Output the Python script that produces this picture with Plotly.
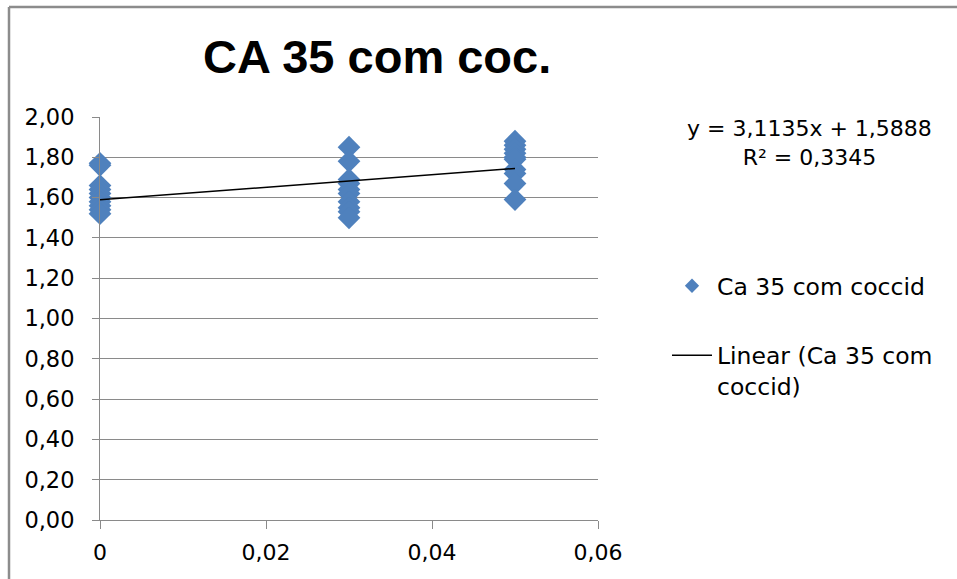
import plotly.graph_objects as go

# ---- data ----
x_group_0 = [0.0] * 10
y_group_0 = [1.77, 1.76, 1.66, 1.64, 1.62, 1.60, 1.58, 1.56, 1.54, 1.52]
x_group_1 = [0.03] * 10
y_group_1 = [1.85, 1.78, 1.69, 1.67, 1.64, 1.62, 1.58, 1.55, 1.53, 1.50]
x_group_2 = [0.05] * 10
y_group_2 = [1.88, 1.86, 1.84, 1.82, 1.80, 1.79, 1.74, 1.72, 1.67, 1.59]

slope = 3.1135
intercept = 1.5888
r_squared = 0.3345
trend_x = [0.0, 0.05]

title_text = "CA 35 com coc."
series_name = "Ca 35 com coccid"
trend_name = "Linear (Ca 35 com<br>coccid)"

y_tickvals = [0.0, 0.2, 0.4, 0.6, 0.8, 1.0, 1.2, 1.4, 1.6, 1.8, 2.0]
y_ticktext = ["0,00", "0,20", "0,40", "0,60", "0,80", "1,00", "1,20", "1,40", "1,60", "1,80", "2,00"]
x_tickvals = [0.0, 0.02, 0.04, 0.06]
x_ticktext = ["0", "0,02", "0,04", "0,06"]

xs = x_group_0 + x_group_1 + x_group_2
ys = y_group_0 + y_group_1 + y_group_2
trend_y = [slope * v + intercept for v in trend_x]

def fmt(v, d):
    return f"{v:.{d}f}".replace(".", ",")

eq_text = f"y = {fmt(slope, 4)}x + {fmt(intercept, 4)}<br>R² = {fmt(r_squared, 4)}"

FONT = "DejaVu Sans, sans-serif"
TITLE_FONT = "Liberation Sans, Arial, sans-serif"
BLUE = "#4F81BD"
GRID = "#8A8A8A"

W, H = 957, 579
L, R, T, B = 100, 598, 117, 520

fig = go.Figure()
fig.add_trace(go.Scatter(
    x=xs, y=ys, mode="markers", showlegend=False, cliponaxis=False,
    marker=dict(symbol="diamond", size=17.5, color=BLUE, line=dict(width=0)),
))
fig.add_trace(go.Scatter(
    x=trend_x, y=trend_y, mode="lines", showlegend=False, cliponaxis=False,
    line=dict(color="black", width=1.5),
))
# legend-only entries
fig.add_trace(go.Scatter(
    x=[None], y=[None], mode="markers", name=series_name, legendgroup="a",
    marker=dict(symbol="diamond", size=11, color=BLUE, line=dict(width=0)),
))
fig.add_trace(go.Scatter(
    x=[None], y=[None], mode="lines", name=trend_name, legendgroup="b",
    line=dict(color="black", width=1.5),
))

def px_x(p):
    return (p - L) / (R - L)

def px_y(p):
    return (B - p) / (B - T)

fig.update_layout(
    width=W, height=H, autosize=False,
    margin=dict(l=L, r=W - R, t=T, b=H - B, pad=0),
    paper_bgcolor="white", plot_bgcolor="white",
    font=dict(family=FONT, size=22, color="black"),
    showlegend=True,
    legend=dict(
        x=px_x(667), y=px_y(264), xanchor="left", yanchor="top",
        font=dict(family=FONT, size=23.5, color="black"),
        tracegroupgap=36, valign="top", bgcolor="rgba(0,0,0,0)",
        itemwidth=40,
    ),
    xaxis=dict(
        range=[0, 0.06], tickvals=x_tickvals, ticktext=x_ticktext,
        showgrid=False, zeroline=False, showline=True, linecolor=GRID, linewidth=1,
        ticks="outside", ticklen=8, tickcolor=GRID, tickwidth=1,
        tickfont=dict(family=FONT, size=22, color="black"), ticklabelstandoff=5,
    ),
    yaxis=dict(
        range=[0, 2.0], tickvals=y_tickvals, ticktext=y_ticktext,
        showgrid=True, gridcolor=GRID, gridwidth=1, zeroline=False,
        showline=True, linecolor=GRID, linewidth=1,
        ticks="outside", ticklen=7, tickcolor=GRID, tickwidth=1,
        tickfont=dict(family=FONT, size=22.5, color="black"), ticklabelstandoff=13,
    ),
    annotations=[
        dict(text=f"<b>{title_text}</b>", xref="paper", yref="paper",
             x=px_x(377), y=px_y(57), xanchor="center", yanchor="middle",
             showarrow=False, font=dict(family=TITLE_FONT, size=47, color="black")),
        dict(text=eq_text, xref="paper", yref="paper",
             x=px_x(809), y=px_y(143), xanchor="center", yanchor="middle",
             align="center", showarrow=False,
             font=dict(family=FONT, size=22, color="black")),
    ],
    shapes=[
        dict(type="line", xref="paper", yref="paper",
             x0=px_x(9), x1=px_x(9), y0=px_y(7), y1=px_y(600),
             line=dict(color="#8C8C8C", width=2.5)),
        dict(type="line", xref="paper", yref="paper",
             x0=px_x(9), x1=px_x(980), y0=px_y(7), y1=px_y(7),
             line=dict(color="#8C8C8C", width=2.5)),
    ],
)

fig.write_html("out.html")
